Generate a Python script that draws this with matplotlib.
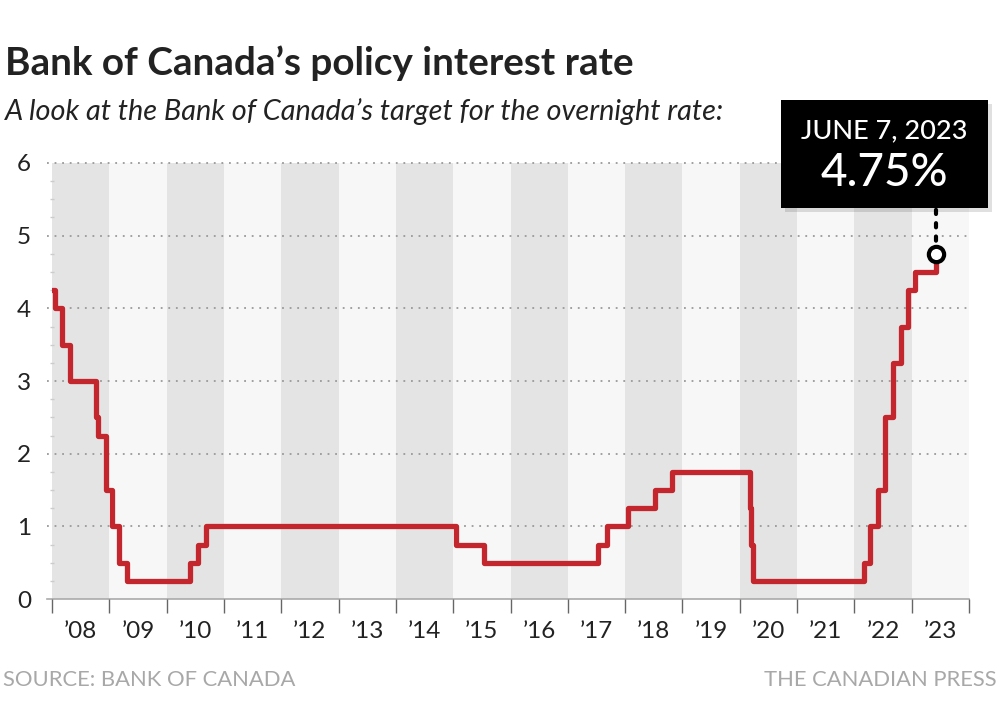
import pandas as pd
import matplotlib
matplotlib.use("Agg")
from matplotlib import pyplot as plt
from matplotlib.patches import Rectangle

plt.rcParams['font.family'] = ['Lato', 'DejaVu Sans']

# rate decisions (date, target for the overnight rate)
dates = ["2008-01-01", "2008-01-22", "2008-03-04", "2008-04-22", "2008-10-08",
         "2008-10-21", "2008-12-09", "2009-01-20", "2009-03-03", "2009-04-21",
         "2010-06-01", "2010-07-20", "2010-09-08", "2015-01-21", "2015-07-15",
         "2017-07-12", "2017-09-06", "2018-01-17", "2018-07-11", "2018-10-24",
         "2020-03-04", "2020-03-13", "2020-03-27", "2022-03-02", "2022-04-13",
         "2022-06-01", "2022-07-13", "2022-09-07", "2022-10-26", "2022-12-07",
         "2023-01-25", "2023-06-07"]
rates = [4.25, 4.00, 3.50, 3.00, 2.50,
         2.25, 1.50, 1.00, 0.50, 0.25,
         0.50, 0.75, 1.00, 0.75, 0.50,
         0.75, 1.00, 1.25, 1.50, 1.75,
         1.25, 0.75, 0.25, 0.50, 1.00,
         1.50, 2.50, 3.25, 3.75, 4.25,
         4.50, 4.75]
years = list(range(2008, 2024))
year_labels = ["\u2019" + str(y)[2:] for y in years]
latest_label = "JUNE 7, 2023"
latest_value = "4.75%"

d = pd.to_datetime(pd.Series(dates))
x = (d.dt.year + (d.dt.dayofyear - 1) / 365.0).tolist()

fig = plt.figure(figsize=(10, 7.18), dpi=100)
ax = fig.add_axes([0.052, 0.1657, 0.917, 0.6073])
ax.set_xlim(2008, 2024)
ax.set_ylim(0, 6)

# alternating year stripes
for i, y in enumerate(years):
    ax.axvspan(y, y + 1, color="#e4e4e4" if i % 2 == 0 else "#f7f7f7", lw=0, zorder=0)

# dotted grid
for g in range(1, 7):
    ax.plot([2007.92, 2024.05], [g, g], ls=(0, (1, 3.2)), color="#999999", lw=1.3,
            clip_on=False, zorder=1)
ax.plot([2007.92, 2024.0], [0, 0], color="#aaaaaa", lw=1.2, clip_on=False, zorder=1)

for s in ax.spines.values():
    s.set_visible(False)

ax.set_xticks(years + [2024])
ax.set_xticklabels([])
ax.set_xticks([y + 0.5 for y in years], minor=True)
ax.set_xticklabels(year_labels, minor=True)
ax.tick_params(axis="x", which="major", length=10, width=1, color="#666666")
ax.tick_params(axis="x", which="minor", length=0, pad=16, labelsize=17.5, labelcolor="#222222")

ax.set_yticks(range(0, 7))
ax.set_yticks([i * 0.25 for i in range(25)], minor=True)
ax.tick_params(axis="y", which="major", length=0, pad=15, labelsize=17.5, labelcolor="#222222")
ax.tick_params(axis="y", which="minor", length=3, direction="inout", width=1, color="#cccccc")

ax.plot(x, rates, drawstyle="steps-post", color="#c4262e", lw=3.8,
        solid_joinstyle="round", solid_capstyle="round", zorder=3)

# latest point and callout
ax.plot([x[-1], x[-1]], [rates[-1], 5.38], ls=(0, (1, 2.2)), color="black", lw=3,
        dash_capstyle="round", clip_on=False, zorder=4)
ax.plot([x[-1]], [rates[-1]], "o", ms=11, mfc="white", mec="black", mew=3, zorder=5,
        clip_on=False)

bx, by, bw, bh = 0.781, 1 - 0.2897, 0.207, 0.1504
fig.add_artist(Rectangle((bx + 0.004, by - 0.006), bw, bh, transform=fig.transFigure,
                         color="black", alpha=0.12, lw=0, zorder=5))
fig.add_artist(Rectangle((bx, by), bw, bh, transform=fig.transFigure,
                         color="black", lw=0, zorder=6))
fig.text(bx + bw / 2, 1 - 0.182, latest_label, color="white", fontsize=19.5,
         fontweight="medium", ha="center", va="center", zorder=7)
fig.text(bx + bw / 2, 1 - 0.241, latest_value, color="white", fontsize=33,
         fontweight="medium", ha="center", va="center", zorder=7)

fig.text(0.005, 1 - 0.088, "Bank of Canada\u2019s policy interest rate", fontsize=27.8,
         fontweight="bold", color="#222222", ha="left", va="center")
fig.text(0.005, 1 - 0.155, "A look at the Bank of Canada\u2019s target for the overnight rate:",
         fontsize=20.8, style="italic", color="#222222", ha="left", va="center")
fig.text(0.003, 1 - 0.947, "SOURCE: BANK OF CANADA", fontsize=15.8, color="#a8a8a8",
         ha="left", va="center")
fig.text(0.997, 1 - 0.947, "THE CANADIAN PRESS", fontsize=15.8, color="#a8a8a8",
         ha="right", va="center")

fig.savefig("out.png", dpi=100)
